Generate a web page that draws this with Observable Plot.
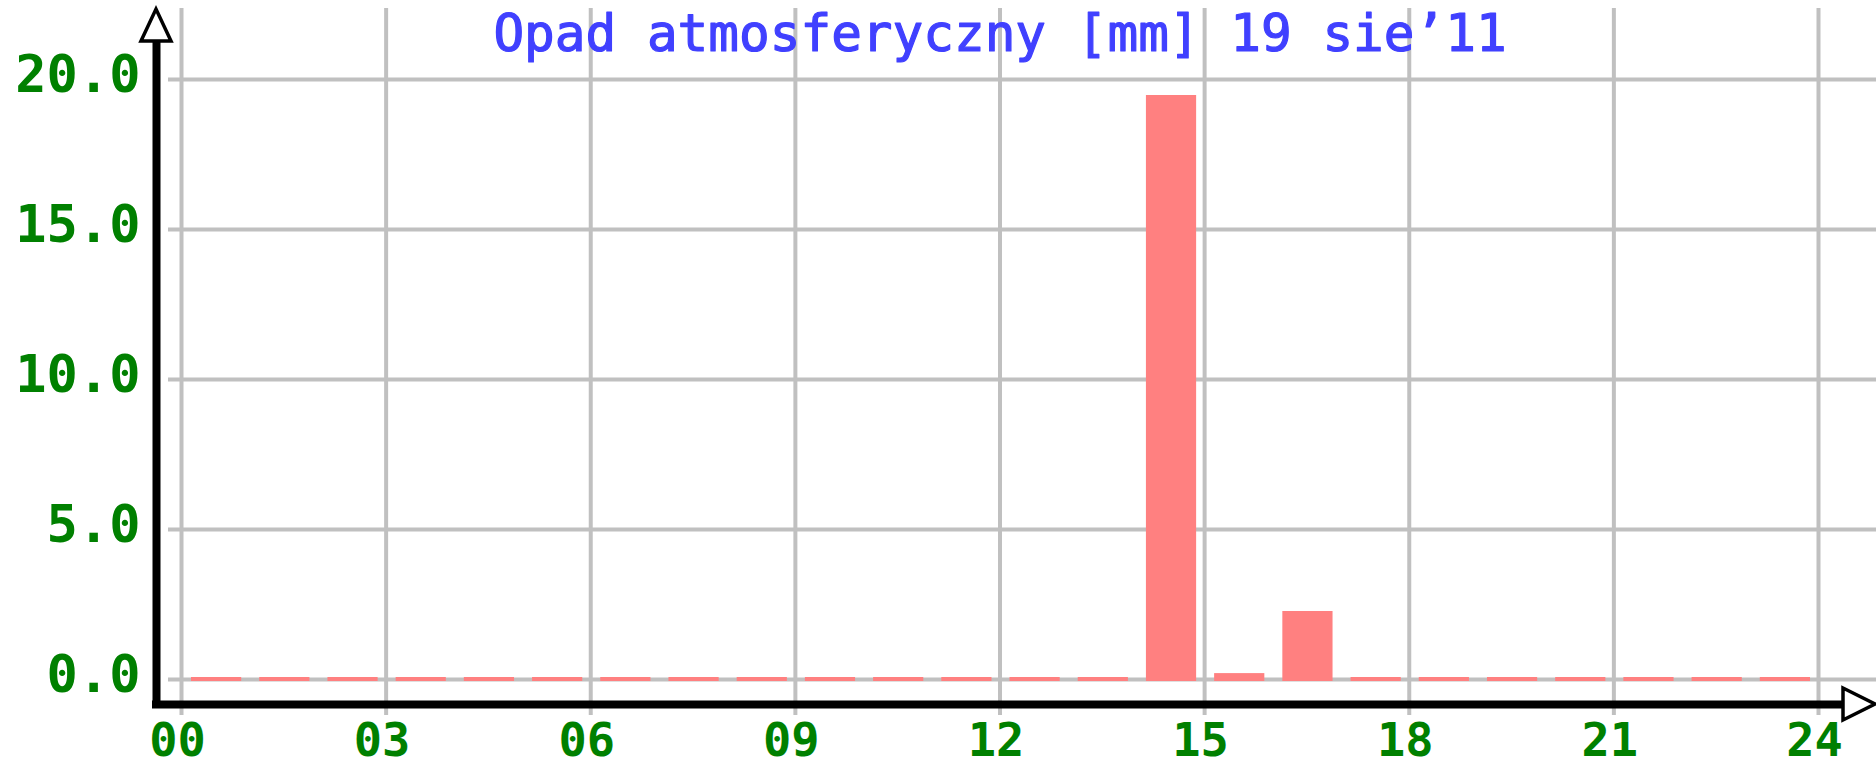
<!DOCTYPE html>
<html>
<head>
<meta charset="utf-8">
<script src="https://cdn.jsdelivr.net/npm/d3@7"></script>
<script src="https://cdn.jsdelivr.net/npm/@observablehq/plot@0.6"></script>
<style>
  html, body { margin: 0; padding: 0; background: #ffffff; }
  #chart svg { display: block; }
</style>
</head>
<body>
<div id="chart"></div>
<script>
// ---- data ----
const titleText = "Opad atmosferyczny [mm] 19 sie\u201911";
const hours = [0,1,2,3,4,5,6,7,8,9,10,11,12,13,14,15,16,17,18,19,20,21,22,23];
const rain  = [0,0,0,0,0,0,0,0,0,0,0,0,0,0,19.4,0.13,2.2,0,0,0,0,0,0,0];
const xTicks = [0,3,6,9,12,15,18,21,24];
const xTickLabels = ["00","03","06","09","12","15","18","21","24"];
const yTicks = [0,5,10,15,20];
const yTickLabels = ["0.0","5.0","10.0","15.0","20.0"];

const bars = hours.map((h, i) => ({start: h, end: h + 1, value: rain[i]}));
const xLab = xTicks.map((t, i) => ({t, label: xTickLabels[i]}));
const yLab = yTicks.map((t, i) => ({t, label: yTickLabels[i]}));

const GRID = "#c0c0c0";
const GREEN = "#008000";
const BLUE = "#4040ff";
const FONT = "'DejaVu Sans Mono', 'Liberation Mono', monospace";

const chart = Plot.plot({
  width: 1876,
  height: 768,
  marginLeft: 181,
  marginRight: 58,
  marginTop: 79,
  marginBottom: 89,
  style: {background: "#ffffff", overflow: "visible"},
  x: {domain: [0, 24], axis: null},
  y: {domain: [0, 20], axis: null},
  marks: [
    // grid
    Plot.ruleX(xTicks, {x: d => d, stroke: GRID, strokeWidth: 4, insetTop: -71, insetBottom: -36}),
    Plot.ruleY(yTicks, {y: d => d, stroke: GRID, strokeWidth: 4, insetLeft: -13, insetRight: -58}),
    // bars
    Plot.rect(bars, {x1: "start", x2: "end", y1: () => 0, y2: "value", fill: "#ff8080",
      insetLeft: 10, insetRight: 8, insetTop: -2, insetBottom: -2}),
    // axis lines
    Plot.ruleX([0], {x: d => d, stroke: "black", strokeWidth: 8, dx: -25, insetTop: -38, insetBottom: -29}),
    Plot.ruleY([0], {y: d => d, stroke: "black", strokeWidth: 8, dy: 25, insetLeft: -29, insetRight: -25}),
    // tick labels
    Plot.text(yLab, {y: "t", text: "label", frameAnchor: "left", textAnchor: "end", dx: -41, dy: -4,
      lineAnchor: "middle", fill: GREEN, fontSize: 52, fontWeight: "bold", fontFamily: FONT}),
    Plot.text(xLab, {x: "t", text: "label", frameAnchor: "bottom", dx: -4, dy: 61,
      lineAnchor: "middle", fill: GREEN, fontSize: 47, fontWeight: "bold", fontFamily: FONT}),
    // title
    Plot.text([titleText], {text: d => d, frameAnchor: "top", dy: -45, lineAnchor: "middle",
      fill: BLUE, stroke: BLUE, strokeWidth: 1.2, fontSize: 51, fontFamily: FONT})
  ]
});

document.getElementById("chart").appendChild(chart);

// arrow heads on the axis lines
const xs = chart.scale("x"), ys = chart.scale("y");
const ax = xs.apply(0) - 25;          // y-axis line position
const ay = ys.apply(0) + 25;          // x-axis line position
const topY = ys.apply(20) - 38;       // top end of y-axis line
const rightX = xs.apply(24) + 25;     // right end of x-axis line
const svg = d3.select(chart);
svg.append("path")
  .attr("d", `M${ax - 15},${topY} L${ax},${topY - 32} L${ax + 15},${topY} Z`)
  .attr("fill", "white").attr("stroke", "black").attr("stroke-width", 3.5);
svg.append("path")
  .attr("d", `M${rightX},${ay - 16} L${rightX + 32},${ay} L${rightX},${ay + 16} Z`)
  .attr("fill", "white").attr("stroke", "black").attr("stroke-width", 3.5);
</script>
</body>
</html>
